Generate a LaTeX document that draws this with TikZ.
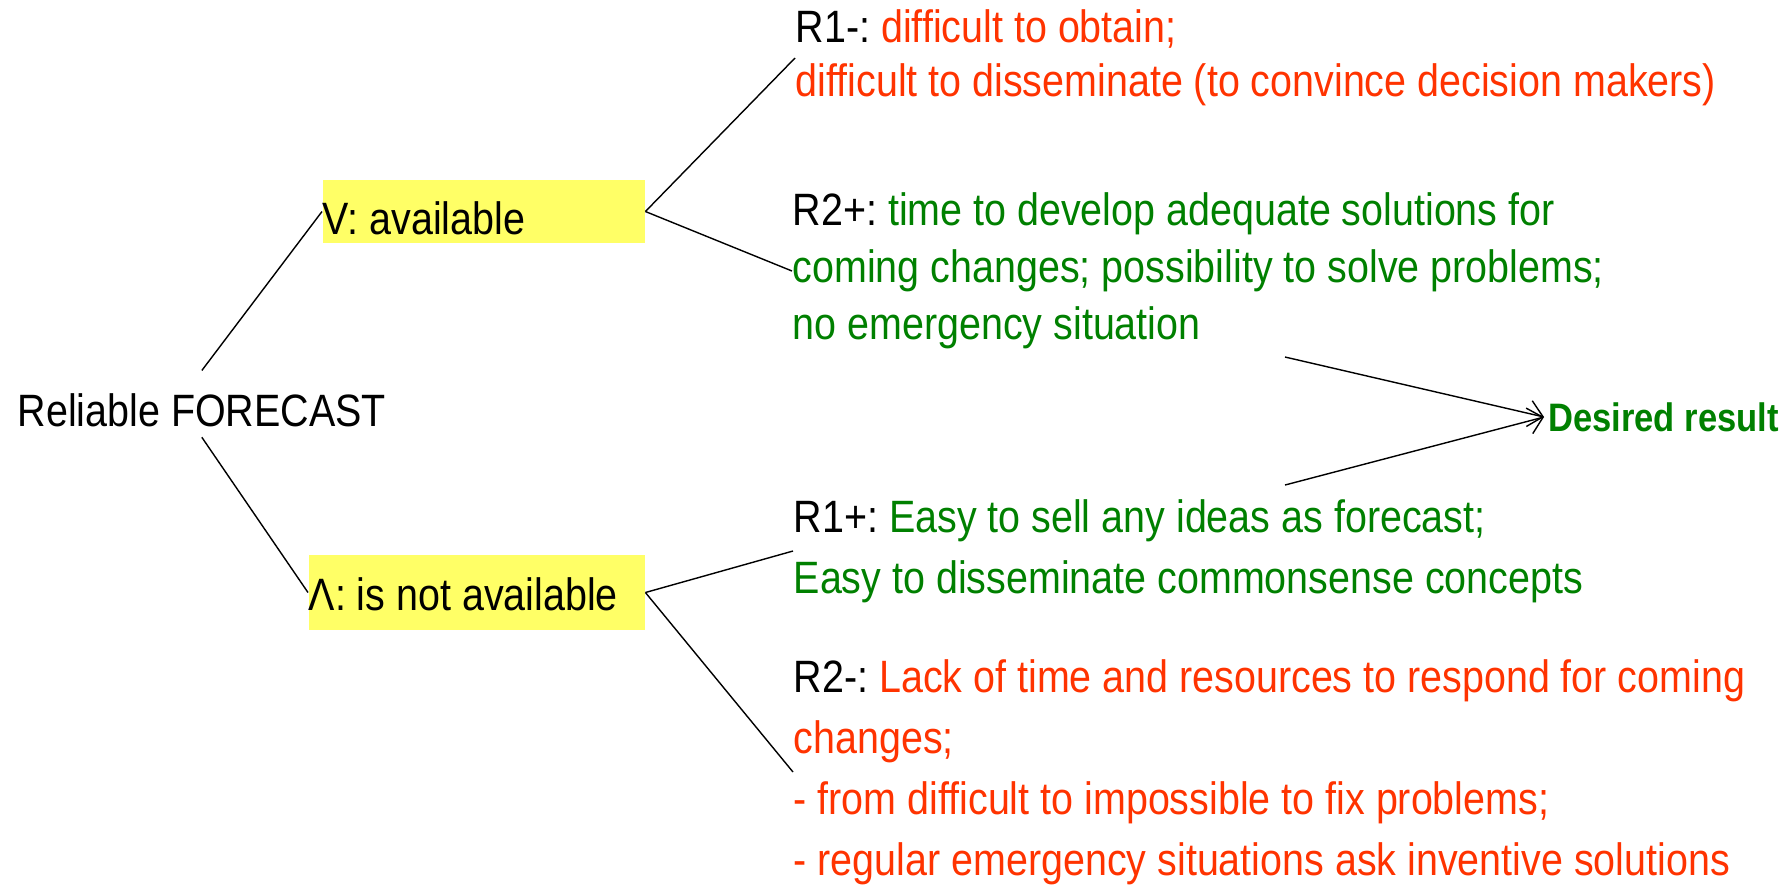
\documentclass[tikz,border=0pt]{standalone}
\usepackage{fontspec}
\setmainfont[FakeStretch=0.87]{Liberation Sans}
\usepackage{tikz}
\usetikzlibrary{arrows.meta}
\frenchspacing

\definecolor{badred}{HTML}{FF3300}
\definecolor{goodgreen}{HTML}{008000}
\definecolor{boxyellow}{HTML}{FFFF66}

\tikzset{
    ybox/.style={fill=boxyellow, inner sep=0pt, text depth=0pt, align=flush left, anchor=west,
        font=\fontsize{12.9pt}{16pt}\selectfont},
    result/.style={inner sep=0pt, align=left, anchor=west,
        font=\fontsize{12.9pt}{17.4pt}\selectfont},
}

\begin{document}
\begin{tikzpicture}
            \useasboundingbox (0,0) rectangle (17.91,-8.91);
            % Wurzel:
            \node[anchor=base west, inner xsep=0pt, inner ysep=3pt, text height=12.6pt, text depth=0pt,
                font=\fontsize{12.9pt}{16pt}\selectfont] (rel) at (0.17,-4.26) {Reliable FORECAST};
            % Zweige:
            \node[ybox, text width=3.22cm, minimum height=0.63cm, text height=12.8pt] (avail)
                at (3.22,-2.115) {V: available};
            \node[ybox, text width=3.36cm, minimum height=0.75cm, text height=10pt] (notavail)
                at (3.08,-5.925) {Λ: is not available};
            \draw (rel.north) -- (avail.west);
            \draw (rel.south) -- (notavail.west);
            % Folgen:
            \node[result, text=badred, font=\fontsize{12.9pt}{15.4pt}\selectfont] (r1m) at (7.95,-0.58)
                {\textcolor{black}{R1-:} difficult to obtain;\\
                 difficult to disseminate (to convince decision makers)};
            \node[result, text=goodgreen, font=\fontsize{12.9pt}{16.2pt}\selectfont] (r2p) at (7.92,-2.71)
                {\textcolor{black}{R2+:} time to develop adequate solutions for\\
                 coming changes; possibility to solve problems;\\
                 no emergency situation};
            \node[result, text=goodgreen] (r1p) at (7.93,-5.51)
                {\textcolor{black}{R1+:} Easy to sell any ideas as forecast;\\
                 Easy to disseminate commonsense concepts};
            \node[result, text=badred] (r2m) at (7.93,-7.72)
                {\textcolor{black}{R2-:} Lack of time and resources to respond for coming\\
                 changes;\\
                 - from difficult to impossible to fix problems;\\
                 - regular emergency situations ask inventive solutions};
            \draw (avail.east) -- (r1m.west);
            \draw (avail.east) -- (r2p.west);
            \draw (notavail.east) -- (r1p.west);
            \draw (notavail.east) -- (r2m.west);
            % Ziel:
            \node[anchor=west, inner xsep=1pt, inner ysep=0pt, text=goodgreen,
                font=\fontsize{11.3pt}{14pt}\selectfont\bfseries] (des) at (15.44,-4.17) {Desired result};
            \coordinate (from r2p) at (12.85,-3.57);
            \coordinate (from r1p) at (12.85,-4.85);
            \draw[-{Straight Barb[length=4pt, width=7.5pt]}] (from r2p) -- (des.west);
            \draw[-{Straight Barb[length=4pt, width=7.5pt]}] (from r1p) -- (des.west);
\end{tikzpicture}
\end{document}
